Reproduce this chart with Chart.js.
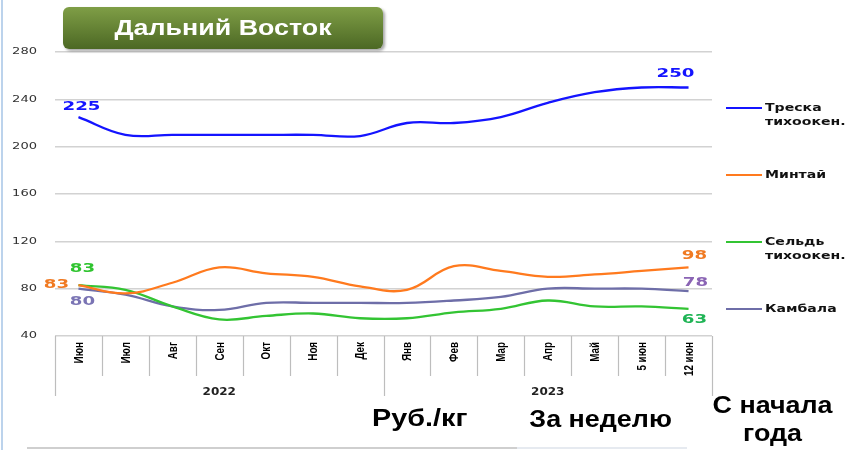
<!DOCTYPE html>
<html><head><meta charset="utf-8">
<script src="https://cdn.jsdelivr.net/npm/chart.js@4"></script>
<style>
body{margin:0;background:#fff;}
#wrap{position:relative;width:858px;height:450px;overflow:hidden;font-family:"Liberation Sans",Arial,sans-serif;background:#fff;}
canvas{position:absolute;left:0;top:0;}
.edge{position:absolute;left:1px;top:0;width:2px;height:450px;background:#bcd3ec;}
.bline{position:absolute;top:447px;height:2px;}
.title{position:absolute;left:63px;top:7px;width:320px;height:42px;border-radius:6px;background:linear-gradient(#7f9e46,#4c6824);box-shadow:2px 2px 3px rgba(0,0,0,0.35);display:flex;align-items:center;justify-content:center;}
.title span{color:#fff;font-weight:bold;font-size:22px;transform:scaleX(1.22);display:inline-block;white-space:nowrap;}
.txt{position:absolute;font-weight:bold;color:#000;font-size:24px;line-height:28px;white-space:nowrap;text-align:center;}
.txt span{display:inline-block;transform:scaleX(1.12);}
</style></head>
<body>
<div id="wrap">
<canvas id="c" width="858" height="450"></canvas>
<div class="edge"></div>
<div class="bline" style="left:27px;width:490px;background:#cfcfcf;"></div>
<div class="bline" style="left:517px;width:170px;background:#e6eaf0;"></div>
<div class="title"><span>Дальний Восток</span></div>
<div class="txt" style="left:360px;top:404px;width:120px;"><span style="transform:scaleX(1.2)">Руб./кг</span></div>
<div class="txt" style="left:521px;top:405px;width:160px;"><span>За неделю</span></div>
<div class="txt" style="left:703px;top:391px;width:140px;"><span>С начала<br>года</span></div>
</div>
<script>
const categories = ['Июн','Июл','Авг','Сен','Окт','Ноя','Дек','Янв','Фев','Мар','Апр','Май','5 июн','12 июн'];
const years = ['2022','2023'];
const yearSpans = [7,7];
const seriesNames = ['Треска тихоокен.','Минтай','Сельдь тихоокен.','Камбала'];
const treska  = [225,210,210,210,210,210,209,220,220,225,237,246,250,250];
const mintai  = [83,76,85,98,93,90,82,79,99,95,90,92,95,98];
const seld    = [83,79,65,54,57,59,55,55,60,63,70,65,65,63];
const kambala = [80,75,65,62,68,68,68,68,70,73,80,80,80,78];
const yMin = 40, yMax = 280, yStep = 40;

const lineColors = ['#1414ff','#ff7a1e','#33c433','#6e6ea8'];
const labelColors = [['#1414ff','#1414ff'],['#f07a22','#f07a22'],['#2fc42f','#1fb455'],['#7a74b4','#8a64b4']];
// label offsets [dx, dy] for first and last point (style only)
const labelOffsets = [[[3,-10],[-13,-14]],[[-22,0],[6,-12]],[[4,-16],[6,11]],[[4,13],[7,-8]]];

const seriesData = [treska, mintai, seld, kambala];

const sepPlugin = {
  id:'sep',
  afterDraw(chart){
    const ctx = chart.ctx, xs = chart.scales.x, ys = chart.scales.y, area = chart.chartArea;
    const n = categories.length;
    const yearB = new Set([0]); let acc=0; yearSpans.forEach(s=>{acc+=s; yearB.add(acc);});
    const bx = [];
    for(let i=0;i<=n;i++){
      let x;
      if(i===0) x = area.left; else if(i===n) x = area.right;
      else x = (xs.getPixelForValue(i-1)+xs.getPixelForValue(i))/2;
      bx.push(x);
    }
    ctx.save();
    ctx.strokeStyle = '#bdbdbd'; ctx.lineWidth = 1.2;
    bx.forEach((x,i)=>{
      const len = yearB.has(i) ? 60 : 40;
      ctx.beginPath(); ctx.moveTo(Math.round(x)+0.5, area.bottom); ctx.lineTo(Math.round(x)+0.5, area.bottom+len); ctx.stroke();
    });
    // y tick labels (wide)
    ctx.fillStyle = '#333'; ctx.font = '9px "DejaVu Sans"'; ctx.textAlign='right'; ctx.textBaseline='middle';
    ys.ticks.forEach(t=>{
      const y = ys.getPixelForValue(t.value);
      ctx.save(); ctx.translate(area.left-18, y); ctx.scale(1.45,1); ctx.fillText(String(t.value),0,0); ctx.restore();
    });
    // category labels, rotated, compressed along text direction
    ctx.fillStyle = '#000'; ctx.font = 'bold 12px "Liberation Sans"'; ctx.textAlign='right'; ctx.textBaseline='middle';
    xs.getLabels().forEach((lab,i)=>{
      const x = xs.getPixelForValue(i);
      ctx.save(); ctx.translate(x+1, area.bottom+6); ctx.rotate(-Math.PI/2); ctx.scale(0.82,1); ctx.fillText(lab,0,0); ctx.restore();
    });
    // year labels
    let start=0;
    ctx.fillStyle = '#222'; ctx.font = 'bold 10px "DejaVu Sans"'; ctx.textAlign='center'; ctx.textBaseline='middle';
    years.forEach((y,k)=>{
      const end = start + yearSpans[k];
      const cx = (bx[start]+bx[end])/2;
      ctx.save(); ctx.translate(cx, area.bottom+56); ctx.scale(1.2,1); ctx.fillText(y,0,0); ctx.restore();
      start = end;
    });
    ctx.restore();
  }
};

const labelPlugin = {
  id:'vlabels',
  afterDatasetsDraw(chart){
    const ctx = chart.ctx;
    ctx.save();
    ctx.font = 'bold 13px "DejaVu Sans"'; ctx.textAlign='center'; ctx.textBaseline='middle';
    chart.data.datasets.forEach((ds,di)=>{
      const meta = chart.getDatasetMeta(di);
      const idxs = [0, ds.data.length-1];
      idxs.forEach((idx,k)=>{
        const p = meta.data[idx];
        const [dx,dy] = labelOffsets[di][k];
        ctx.fillStyle = labelColors[di][k];
        ctx.save(); ctx.translate(p.x+dx, p.y+dy); ctx.scale(1.4,1); ctx.fillText(String(ds.data[idx]),0,0); ctx.restore();
      });
    });
    ctx.restore();
  }
};

const legendPlugin = {
  id:'leg',
  afterDraw(chart){
    const ctx = chart.ctx, area = chart.chartArea;
    ctx.save();
    ctx.font = 'bold 11px "DejaVu Sans"'; ctx.textAlign='left'; ctx.textBaseline='middle';
    chart.data.datasets.forEach((ds,i)=>{
      const y = area.top + 56 + i*67;
      const x0 = area.right + 14;
      ctx.strokeStyle = ds.borderColor; ctx.lineWidth = 2.2;
      ctx.beginPath(); ctx.moveTo(x0, y); ctx.lineTo(x0+36, y); ctx.stroke();
      ctx.fillStyle = '#111';
      ds.label.split(' ').forEach((t,j)=>{
        ctx.save(); ctx.translate(x0+39, y+j*14); ctx.scale(1.28,1); ctx.fillText(t,0,0); ctx.restore();
      });
    });
    ctx.restore();
  }
};

new Chart(document.getElementById('c'), {
  type:'line',
  data:{
    labels: categories,
    datasets: seriesData.map((d,i)=>({
      label: seriesNames[i], data: d, borderColor: lineColors[i], backgroundColor: lineColors[i],
      borderWidth: 2.3, pointRadius: 0, tension: 0.4, fill:false
    }))
  },
  options:{
    responsive:false, devicePixelRatio:1, animation:false,
    layout:{padding:{top:52,right:146,left:0,bottom:0}},
    plugins:{legend:{display:false}, tooltip:{enabled:false}, title:{display:false}},
    scales:{
      y:{
        min:yMin, max:yMax,
        ticks:{stepSize:yStep, display:false},
        grid:{color:'#d2d2d2', lineWidth:1.5, drawTicks:false},
        border:{display:false},
        afterFit(s){ s.width = 55; }
      },
      x:{
        offset:true,
        ticks:{display:false},
        grid:{display:false, drawTicks:false},
        border:{display:false},
        afterFit(s){ s.height = 114; }
      }
    }
  },
  plugins:[sepPlugin, labelPlugin, legendPlugin]
});
</script>
</body></html>
